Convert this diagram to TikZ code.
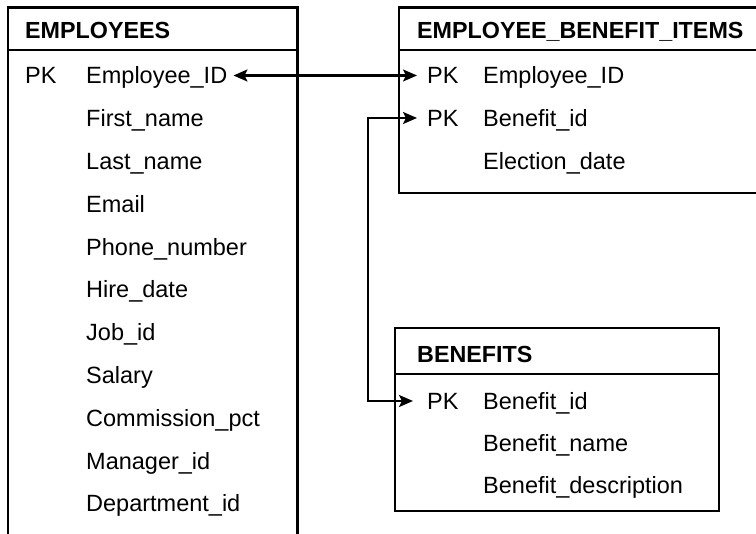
\documentclass[tikz,border=0pt]{standalone}
\usepackage{fontspec}
\setmainfont{Liberation Sans}
\usetikzlibrary{arrows.meta}
\begin{document}
\begin{tikzpicture}[x=1pt,y=-1pt,
  box/.style={line width=2.4pt},
  fld/.style={anchor=base west,inner sep=0pt,font=\fontsize{23.5}{28}\selectfont,text height=16.8pt,text depth=0pt},
  ttl/.style={anchor=base west,inner sep=0pt,font=\fontsize{23.3}{28}\selectfont\bfseries},
  conn/.style={line width=2.2pt,{Stealth[length=14pt,width=12pt,inset=3pt]}-{Stealth[length=14pt,width=12pt,inset=3pt]}}
]
\useasboundingbox (0,0) rectangle (756,534);
\clip (0,0) rectangle (756,534);
\fill[white] (0,0) rectangle (756,534);

% EMPLOYEES
\draw[box] (8,545) -- (8,7.5) -- (297.5,7.5) -- (297.5,545);
\draw[box] (8,50) -- (297.5,50);
\node[ttl] (empT) at (25,38.5) {EMPLOYEES};
\node[fld] (epk) at (25,83.9) {PK};
\foreach \t [count=\i] in {Employee\_ID,First\_name,Last\_name,Email,Phone\_number,Hire\_date,Job\_id,Salary,Commission\_pct,Manager\_id,Department\_id}
  \node[fld] (e\i) at (86,{75.5+42.8*(\i-1)+8.4}) {\t};

% EMPLOYEE_BENEFIT_ITEMS
\draw[box] (770,7.5) -- (399,7.5) -- (399,193) -- (770,193);
\draw[box] (399,50) -- (770,50);
\node[ttl] (ebiT) at (417,38.5) {EMPLOYEE\_BENEFIT\_ITEMS};
\node[fld] (ipk1) at (427,83.9) {PK};
\node[fld] (ipk2) at (427,126.4) {PK};
\node[fld] (i1) at (483,83.9) {Employee\_ID};
\node[fld] (i2) at (483,126.4) {Benefit\_id};
\node[fld] (i3) at (483,169.4) {Election\_date};

% BENEFITS
\draw[box] (395,328) rectangle (719,511);
\draw[box] (395,374) -- (719,374);
\node[ttl] (benT) at (417,363) {BENEFITS};
\node[fld] (bpk1) at (427,409.4) {PK};
\node[fld] (b1) at (483,409.4) {Benefit\_id};
\node[fld] (b2) at (483,451.4) {Benefit\_name};
\node[fld] (b3) at (483,493.4) {Benefit\_description};

% connectors
\draw[conn] ([xshift=6pt]e1.east) -- ([xshift=-10pt]ipk1.west);
\draw[conn] ([xshift=-14pt]bpk1.west) -- ++(-45,0) |- ([xshift=-10pt]ipk2.west);
\end{tikzpicture}
\end{document}
